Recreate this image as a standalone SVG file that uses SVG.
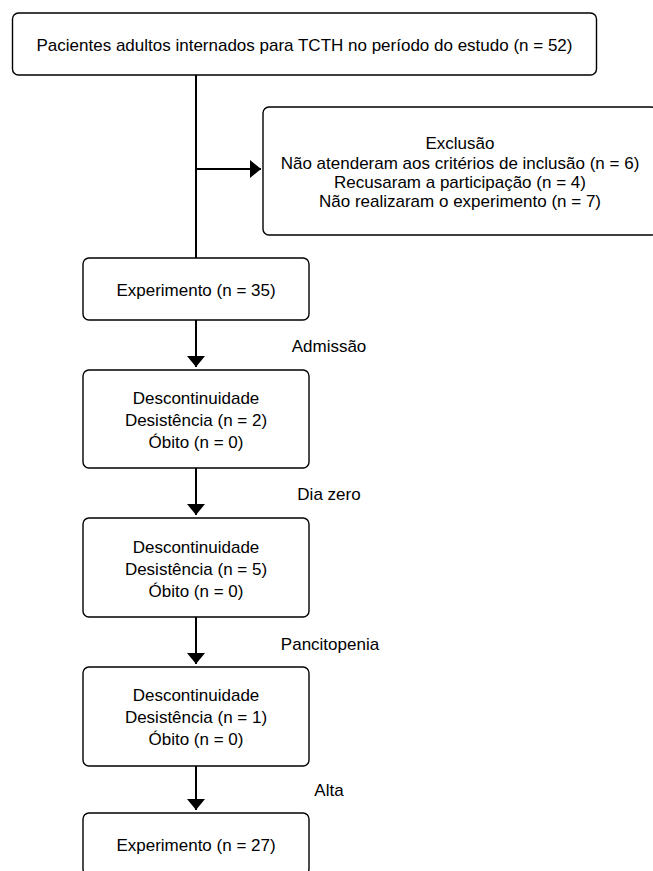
<svg xmlns="http://www.w3.org/2000/svg" width="653" height="871" viewBox="0 0 653 871">
<style>
.box{fill:#fff;stroke:#000;stroke-width:1.4}
.t{font-family:"Liberation Sans",Arial,sans-serif;font-size:17px;fill:#000;text-anchor:middle}
.ln{stroke:#000;stroke-width:2;fill:none}
</style>
<defs>
<marker id="ah" viewBox="0 0 11 18" refX="11" refY="9" markerWidth="11" markerHeight="18" markerUnits="userSpaceOnUse" orient="auto">
<path d="M0,0 L11,9 L0,18 Z" fill="#000"/>
</marker>
</defs>
<rect width="653" height="871" fill="#fff"/>
<g id="connectors">
<line class="ln" x1="196" y1="75" x2="196" y2="258"/>
<line class="ln" x1="196" y1="169" x2="261" y2="169" marker-end="url(#ah)"/>
<line class="ln" x1="196" y1="320" x2="196" y2="367" marker-end="url(#ah)"/>
<line class="ln" x1="196" y1="468" x2="196" y2="515" marker-end="url(#ah)"/>
<line class="ln" x1="196" y1="617" x2="196" y2="664" marker-end="url(#ah)"/>
<line class="ln" x1="196" y1="766" x2="196" y2="810" marker-end="url(#ah)"/>
<text class="t" x="329" y="352">Admissão</text>
<text class="t" x="329" y="500">Dia zero</text>
<text class="t" x="330" y="650">Pancitopenia</text>
<text class="t" x="329" y="796">Alta</text>
</g>
<g id="n_top">
<rect class="box" x="12.5" y="13" width="584" height="62" rx="6"/>
<text class="t" x="304.5" y="51">Pacientes adultos internados para TCTH no período do estudo (n = 52)</text>
</g>
<g id="n_exclusao">
<rect class="box" x="263" y="107" width="394" height="128" rx="6"/>
<text class="t" x="460" y="149">Exclusão</text>
<text class="t" x="460" y="168.5">Não atenderam aos critérios de inclusão (n = 6)</text>
<text class="t" x="460" y="188">Recusaram a participação (n = 4)</text>
<text class="t" x="460" y="207">Não realizaram o experimento (n = 7)</text>
</g>
<g id="n_exp1">
<rect class="box" x="83" y="258" width="226" height="62" rx="6"/>
<text class="t" x="196" y="296">Experimento (n = 35)</text>
</g>
<g id="n_desc1">
<rect class="box" x="83" y="370" width="226" height="98" rx="6"/>
<text class="t" x="196" y="404">Descontinuidade</text>
<text class="t" x="196" y="426">Desistência (n = 2)</text>
<text class="t" x="196" y="448">Óbito (n = 0)</text>
</g>
<g id="n_desc2">
<rect class="box" x="83" y="518" width="226" height="99" rx="6"/>
<text class="t" x="196" y="553">Descontinuidade</text>
<text class="t" x="196" y="575">Desistência (n = 5)</text>
<text class="t" x="196" y="597">Óbito (n = 0)</text>
</g>
<g id="n_desc3">
<rect class="box" x="83" y="667" width="226" height="99" rx="6"/>
<text class="t" x="196" y="701">Descontinuidade</text>
<text class="t" x="196" y="723">Desistência (n = 1)</text>
<text class="t" x="196" y="745">Óbito (n = 0)</text>
</g>
<g id="n_exp2">
<rect class="box" x="83" y="813" width="226" height="62" rx="6"/>
<text class="t" x="196" y="851">Experimento (n = 27)</text>
</g>
</svg>
